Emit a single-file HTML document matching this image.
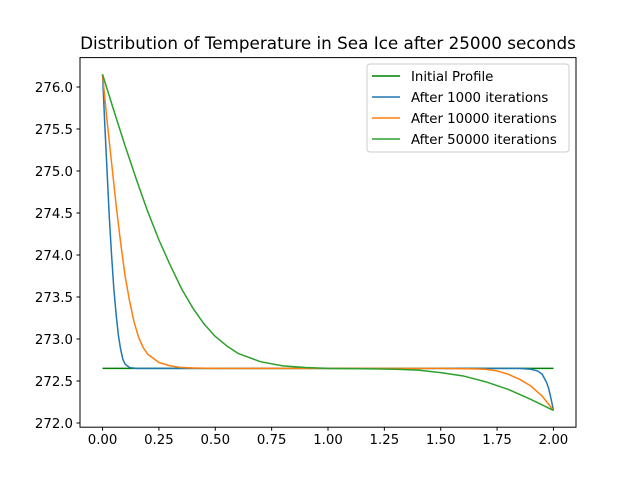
<!DOCTYPE html>
<html><head><meta charset="utf-8"><style>
body{margin:0;background:#fff;}
svg{display:block;font-family:"DejaVu Sans","Liberation Sans",sans-serif;}
</style></head><body>
<svg id="chart" width="640" height="480" viewBox="0 0 640 480">
<rect width="640" height="480" fill="#fff"/>
<text x="328" y="49" text-anchor="middle" font-size="16.8">Distribution of Temperature in Sea Ice after 25000 seconds</text>
<g id="plot"></g>
<rect x="80" y="57.6" width="496" height="369.6" fill="none" stroke="#000" stroke-width="1"/>
<g id="legend"></g>
</svg>
<script>
const xTicks=[0,0.25,0.5,0.75,1.0,1.25,1.5,1.75,2.0];
const xTickLabels=["0.00","0.25","0.50","0.75","1.00","1.25","1.50","1.75","2.00"];
const yTicks=[272.0,272.5,273.0,273.5,274.0,274.5,275.0,275.5,276.0];
const yTickLabels=["272.0","272.5","273.0","273.5","274.0","274.5","275.0","275.5","276.0"];
const initX=[0,2];
const initY=[272.65,272.65];
const blueX=[0,0.01,0.02,0.03,0.04,0.05,0.06,0.07,0.08,0.09,0.1,0.12,0.15,0.5,1.0,1.5,1.85,1.9,1.93,1.95,1.97,1.98,1.99,2.0];
const blueY=[276.15,275.55,275.0,274.45,274.0,273.6,273.3,273.05,272.88,272.76,272.7,272.66,272.65,272.65,272.65,272.65,272.65,272.64,272.62,272.58,272.48,272.4,272.28,272.15];
const orangeX=[0,0.02,0.04,0.06,0.08,0.1,0.12,0.14,0.16,0.18,0.2,0.25,0.3,0.35,0.4,0.5,1.0,1.5,1.65,1.7,1.75,1.8,1.85,1.9,1.95,2.0];
const orangeY=[276.15,275.6,275.1,274.6,274.15,273.75,273.45,273.2,273.02,272.9,272.82,272.72,272.68,272.66,272.655,272.65,272.65,272.65,272.645,272.64,272.62,272.58,272.52,272.44,272.32,272.15];
const greenX=[0,0.05,0.1,0.15,0.2,0.25,0.3,0.35,0.4,0.45,0.5,0.55,0.6,0.7,0.8,0.9,1.0,1.2,1.3,1.4,1.5,1.6,1.7,1.8,1.9,2.0];
const greenY=[276.15,275.72,275.3,274.9,274.52,274.18,273.88,273.6,273.37,273.18,273.03,272.92,272.83,272.73,272.68,272.66,272.65,272.645,272.64,272.63,272.6,272.56,272.49,272.4,272.28,272.15];
const series=[
 {name:"Initial Profile",x:initX,y:initY,c:"#008000",id:"initial-profile-line"},
 {name:"After 1000 iterations",x:blueX,y:blueY,c:"#1f77b4",id:"after-1000-line"},
 {name:"After 10000 iterations",x:orangeX,y:orangeY,c:"#ff7f0e",id:"after-10000-line"},
 {name:"After 50000 iterations",x:greenX,y:greenY,c:"#2ca02c",id:"after-50000-line"}];
const NS="http://www.w3.org/2000/svg";
const L=80,R=576,T=57.6,B=427.2,x0=-0.1,x1=2.1,y0=271.95,y1=276.35;
const sx=v=>L+(v-x0)/(x1-x0)*(R-L);
const sy=v=>B-(v-y0)/(y1-y0)*(B-T);
const plot=document.getElementById('plot');
function mk(t,a,p){const e=document.createElementNS(NS,t);for(const k in a)e.setAttribute(k,a[k]);(p||plot).appendChild(e);return e;}
xTicks.forEach((v,i)=>{
 const g=mk('g',{});
 
 
 mk('line',{x1:sx(v),x2:sx(v),y1:B,y2:B+3.5,stroke:"#000"},g);
 const t=mk('text',{x:sx(v),y:B+17,"text-anchor":"middle","font-size":"13.3"},g);t.textContent=xTickLabels[i];
});
yTicks.forEach((v,i)=>{
 const g=mk('g',{});
 
 
 mk('line',{x1:L-3.5,x2:L,y1:sy(v),y2:sy(v),stroke:"#000"},g);
 const t=mk('text',{x:L-7,y:sy(v)+4.8,"text-anchor":"end","font-size":"13.3"},g);t.textContent=yTickLabels[i];
});
series.forEach(s=>{
 const p=mk('polyline',{points:s.x.map((v,i)=>sx(v)+","+sy(s.y[i])).join(" "),fill:"none",stroke:s.c,"stroke-width":"1.5","stroke-linejoin":"round"});
 
 
});
const lg=document.getElementById('legend');
mk('rect',{x:367,y:64,width:202,height:88,rx:3,fill:"#fff",stroke:"#ccc","fill-opacity":"0.8"},lg);
series.forEach((s,i)=>{
 const y=76+i*21;
 const g=mk('g',{},lg);
 
 
 mk('line',{x1:372,x2:400,y1:y,y2:y,stroke:s.c,"stroke-width":"1.5"},g);
 const t=mk('text',{x:411,y:y+4.8,"font-size":"13.3"},g);t.textContent=s.name;
});
</script>
</body></html>
